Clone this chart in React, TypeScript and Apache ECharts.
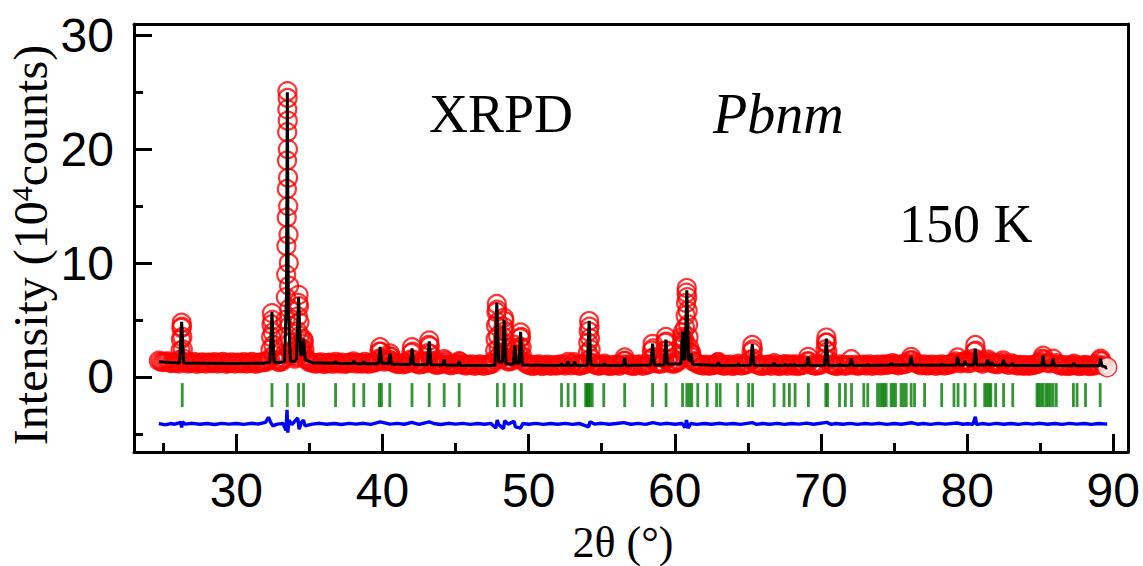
import React, { useEffect, useRef } from "react";
import * as echarts from "echarts";

// ---------- data ----------
const xMajorTicks = [30, 40, 50, 60, 70, 80, 90];
const xMinorTicks = [25, 35, 45, 55, 65, 75, 85];
const yMajorTicks = [0, 10, 20, 30];
const yMinorTicks = [-5, 5, 15, 25];

// observed points along the background
const obsBackground: number[][] = [
  [24.7,1.42],[24.9,1.30],[25.1,1.33],[25.3,1.36],[25.5,1.21],[25.7,1.24],[25.9,1.27],[26.1,1.18],
  [26.5,1.28],[26.7,1.18],[26.9,1.24],[27.1,1.30],[27.3,1.15],[27.5,1.22],[27.7,1.27],[27.9,1.17],[28.1,1.25],[28.3,1.20],
  [28.5,1.28],[28.7,1.18],[28.9,1.24],[29.1,1.30],[29.3,1.15],[29.5,1.22],[29.7,1.27],[29.9,1.17],[30.1,1.25],[30.3,1.20],
  [30.5,1.28],[30.7,1.18],[30.9,1.24],[31.1,1.30],[31.3,1.15],[31.5,1.22],[31.7,1.27],[31.9,1.30],[32.1,1.35],
  [32.7,1.45],[32.9,1.30],[33.1,1.35],[33.25,1.6],[33.85,1.9],[34.0,1.6],[34.8,1.5],[35.0,1.3],
  [35.2,1.25],[35.4,1.16],[35.6,1.22],[35.8,1.27],[36.0,1.13],[36.2,1.20],[36.4,1.25],[36.6,1.15],[36.8,1.30],[37.0,1.17],
  [37.2,1.24],[37.4,1.14],[37.6,1.20],[37.8,1.25],[38.0,1.35],[38.2,1.18],[38.4,1.22],[38.6,1.16],[38.8,1.30],[39.0,1.15],
  [39.2,1.20],[39.4,1.25],[39.6,1.35],[40.1,1.35],[40.3,1.4],[40.8,1.25],[41.0,1.12],[41.2,1.18],[41.4,1.10],[41.6,1.16],
  [41.8,1.25],[42.3,1.2],[42.5,1.08],[42.7,1.14],[42.9,1.2],[43.5,1.15],[43.7,1.05],[43.9,1.1],[44.1,1.2],[44.3,1.4],
  [44.5,1.08],[44.7,1.02],[44.9,1.10],[45.1,1.15],[45.3,1.3],[45.5,1.06],[45.7,0.99],[45.9,1.05],[46.1,1.10],[46.3,0.98],
  [46.5,1.04],[46.7,1.08],[46.9,0.97],[47.1,1.03],[47.3,1.08],[47.5,1.15],[48.07,1.6],[48.6,1.35],[48.8,1.4],[49.25,1.6],
  [49.7,1.3],[49.9,1.1],[50.1,1.02],[50.3,0.96],[50.5,1.04],[50.7,1.08],[50.9,0.95],[51.1,1.01],[51.3,1.06],[51.5,0.97],
  [51.7,1.03],[51.9,1.0],[52.1,1.06],[52.3,1.1],[52.5,1.0],[52.7,1.3],[52.9,1.02],[53.1,1.28],[53.3,1.04],[53.5,0.98],
  [53.7,1.05],[53.9,1.15],[54.4,1.2],[54.6,1.05],[54.8,0.98],[55.0,1.04],[55.2,1.15],[55.4,1.0],[55.6,0.96],[55.8,1.03],
  [56.0,1.07],[56.2,0.97],[56.4,1.1],[56.8,1.08],[57.0,1.0],[57.2,0.95],[57.4,1.04],[57.6,1.08],[57.8,0.98],[58.0,1.05],
  [58.2,1.1],[58.75,1.2],[58.95,1.15],[59.15,1.2],[59.65,1.25],[59.85,1.15],[60.05,1.2],[60.25,1.4],[61.35,1.3],[61.55,1.15],
  [61.75,1.05],[61.95,1.0],[62.15,1.06],[62.35,0.98],[62.55,1.03],[62.75,1.08],[62.95,1.25],[63.15,1.05],[63.35,0.97],[63.55,1.02],
  [63.75,1.07],[63.95,0.96],[64.15,1.01],[64.35,1.15],[64.55,1.0],[64.75,1.05],[64.95,1.12],[65.6,1.1],[65.8,1.0],[66.0,0.95],
  [66.2,1.03],[66.4,1.06],[66.6,0.98],[66.8,1.2],[67.0,1.0],[67.2,0.96],[67.4,1.05],[67.55,1.12],[67.7,0.98],[67.9,1.1],
  [68.1,1.0],[68.25,1.08],[68.4,0.96],[68.6,1.02],[68.8,1.06],[69.4,1.05],[69.6,0.98],[69.8,1.02],[70.0,1.08],[70.7,1.1],
  [70.9,1.0],[71.1,0.96],[71.3,1.1],[71.5,1.02],[71.7,0.98],[71.9,1.05],[72.3,1.04],[72.5,0.97],[72.7,1.01],[72.9,1.06],
  [73.1,1.0],[73.3,1.08],[73.5,0.98],[73.7,1.03],[73.9,1.07],[74.1,1.0],[74.3,1.1],[74.5,1.04],[74.7,1.12],[74.9,1.2],
  [75.1,1.08],[75.3,1.02],[75.5,1.08],[75.7,1.12],[75.9,1.2],[76.45,1.25],[76.65,1.1],[76.85,1.02],[77.05,1.08],[77.25,0.99],
  [77.45,1.04],[77.65,1.07],[77.85,0.98],[78.05,1.03],[78.25,1.1],[78.45,1.0],[78.65,1.05],[78.85,1.12],[79.05,1.2],[79.2,1.35],
  [79.55,1.2],[79.7,1.3],[79.85,1.4],[80.05,1.2],[80.25,1.25],[80.85,1.3],[81.05,1.15],[81.25,1.3],[81.45,1.5],[81.65,1.25],
  [81.85,1.15],[82.05,1.1],[82.25,1.2],[82.45,1.45],[82.65,1.15],[82.85,1.05],[83.05,1.18],[83.25,1.08],[83.45,1.0],[83.65,1.04],
  [83.85,0.98],[84.05,1.02],[84.25,0.97],[84.45,1.03],[84.65,1.08],[84.85,1.15],[85.0,1.3],[85.45,1.25],[85.65,1.2],[86.1,1.2],
  [86.3,1.05],[86.5,0.98],[86.7,1.02],[86.9,0.96],[87.1,1.0],[87.3,1.15],[87.5,1.0],[87.7,0.95],[87.9,1.0],[88.1,1.04],
  [88.3,0.95],[88.5,0.98],[88.7,1.0],[88.9,1.1],[89.35,1.0],
];
// last recorded point
const obsLast: number[][] = [[89.58, 0.85]];

// observed points on the Bragg peaks
const obsPeaks: number[][] = [
  [26.14,1.5],[26.18,2.3],[26.21,3.3],[26.24,4.3],[26.26,4.75],[26.28,4.4],[26.31,3.5],[26.34,2.4],[26.38,1.6],
  [32.30,1.6],[32.34,2.4],[32.38,3.5],[32.41,4.6],[32.44,5.6],[32.47,5.0],[32.50,3.9],[32.53,2.8],[32.57,1.9],
  [33.32,2.0],[33.35,3.5],[33.37,5.0],[33.39,7.0],[33.41,9.0],[33.43,11.5],[33.45,14.0],[33.46,16.5],[33.47,19.0],[33.48,21.5],
  [33.49,23.5],[33.50,25.1],[33.51,24.5],[33.52,22.5],[33.53,20.0],[33.54,17.5],[33.55,15.0],[33.57,12.5],[33.59,10.0],[33.61,8.0],
  [33.63,6.0],[33.66,4.5],[33.69,3.0],[33.73,2.2],
  [34.12,1.8],[34.15,2.8],[34.18,4.0],[34.21,5.3],[34.24,6.5],[34.26,7.2],[34.29,6.2],[34.32,4.8],[34.35,3.6],[34.39,2.6],[34.43,2.2],
  [34.50,2.3],[34.54,2.9],[34.58,3.3],[34.62,3.1],[34.66,2.4],[34.71,1.8],
  [39.74,1.6],[39.79,2.2],[39.84,2.6],[39.89,2.2],[39.94,1.6],
  [40.44,1.5],[40.48,1.8],[40.52,2.05],[40.57,1.75],[40.62,1.4],
  [41.93,1.5],[41.97,2.1],[42.02,2.6],[42.06,2.2],[42.11,1.5],
  [43.09,1.4],[43.13,2.1],[43.17,2.8],[43.20,3.2],[43.24,2.7],[43.28,2.0],[43.33,1.4],
  [44.22,1.55],[45.25,1.38],
  [47.68,1.5],[47.71,2.3],[47.74,3.3],[47.77,4.5],[47.80,5.7],[47.82,6.4],[47.85,5.9],[47.88,4.8],[47.91,3.6],[47.95,2.5],[47.99,1.8],
  [48.19,1.8],[48.22,2.6],[48.25,3.5],[48.28,4.4],[48.31,5.2],[48.34,4.9],[48.37,4.0],[48.41,2.9],[48.45,2.0],[48.50,1.5],
  [48.96,1.7],[49.00,2.3],[49.05,2.8],[49.09,2.4],[49.13,1.9],
  [49.35,1.9],[49.38,2.6],[49.42,3.4],[49.45,3.9],[49.48,3.5],[49.52,2.6],[49.57,1.8],
  [54.02,1.4],[54.05,2.1],[54.08,3.0],[54.11,4.0],[54.14,4.9],[54.17,4.4],[54.20,3.4],[54.24,2.4],[54.28,1.6],
  [56.53,1.4],[56.57,1.7],[56.61,1.4],
  [58.39,1.6],[58.43,2.3],[58.48,2.9],[58.52,2.5],[58.57,1.7],
  [59.29,1.6],[59.33,2.3],[59.36,3.0],[59.39,3.5],[59.42,3.1],[59.46,2.3],[59.51,1.6],
  [60.43,1.8],[60.47,2.8],[60.50,3.5],[60.53,3.9],[60.57,3.3],[60.62,2.8],[60.67,3.2],[60.71,4.3],[60.74,5.4],[60.77,6.5],
  [60.80,7.4],[60.82,7.8],[60.85,7.0],[60.88,5.8],[60.91,4.6],[60.94,3.5],[60.98,2.6],[61.04,2.0],[61.09,2.1],[61.12,2.1],
  [61.17,1.7],[61.22,1.4],
  [62.98,1.3],
  [65.21,1.5],[65.25,2.2],[65.30,2.8],[65.34,2.4],[65.39,1.6],
  [69.05,1.35],[69.12,1.75],[69.18,1.35],
  [70.27,1.6],[70.31,2.4],[70.34,3.0],[70.37,3.45],[70.40,3.0],[70.44,2.2],[70.49,1.5],
  [72.07,1.55],
  [76.10,1.45],[76.17,1.75],[76.24,1.45],
  [79.35,1.7],
  [80.47,1.6],[80.51,2.2],[80.56,2.8],[80.60,2.3],[80.65,1.5],
  [85.15,1.6],[85.20,1.85],[85.26,1.5],[85.88,1.6],
  [89.08,1.45],[89.13,1.6],[89.19,1.35],
];

// calculated profile
const calculated: number[][] = [
  [24.7,1.32],[25.5,1.26],[26.12,1.22],[26.26,4.83],[26.4,1.22],[28,1.2],[30,1.18],[31.8,1.2],[32.3,1.28],[32.44,5.7],
  [32.58,1.3],[33.0,1.25],[33.3,1.35],[33.43,7.2],[33.49,25.0],[33.56,6.0],[33.7,1.4],[34.0,1.35],[34.12,1.6],[34.26,7.0],
  [34.4,1.9],[34.5,2.0],[34.6,3.3],[34.72,1.5],[35.2,1.25],[36.7,1.2],[36.79,1.35],[36.88,1.2],[37.95,1.17],[38.04,1.4],
  [38.13,1.17],[38.63,1.15],[38.72,1.35],[38.81,1.15],[39.72,1.15],[39.84,2.63],[39.96,1.2],[40.1,1.2],[40.42,1.15],[40.52,2.05],
  [40.62,1.12],[41.9,1.08],[42.02,2.5],[42.14,1.08],[43.08,1.06],[43.2,3.13],[43.32,1.06],[44.13,1.04],[44.22,1.55],[44.31,1.03],
  [45.16,1.02],[45.25,1.38],[45.34,1.0],[47.7,1.0],[47.82,6.5],[47.95,1.3],[48.2,1.3],[48.32,5.04],[48.45,1.15],[48.95,1.1],
  [49.05,2.78],[49.15,1.2],[49.34,1.2],[49.45,3.95],[49.57,1.05],[52.16,1.0],[52.25,1.15],[52.34,1.0],[52.59,1.0],[52.68,1.38],
  [52.77,1.0],[53.05,1.0],[53.14,1.35],[53.23,1.0],[54.02,1.0],[54.14,4.92],[54.26,1.05],[55.11,1.0],[55.2,1.17],[55.29,1.0],
  [56.48,1.0],[56.57,1.7],[56.66,1.0],[58.36,1.05],[58.48,2.93],[58.6,1.05],[59.27,1.05],[59.39,3.28],[59.51,1.1],[60.42,1.15],
  [60.53,3.95],[60.63,1.5],[60.7,1.6],[60.82,7.61],[60.95,1.5],[61.05,1.4],[61.12,2.05],[61.22,1.1],[62.89,1.0],[62.98,1.28],
  [63.07,1.0],[64.26,1.0],[64.35,1.15],[64.44,1.0],[65.18,1.02],[65.3,2.87],[65.42,1.02],[66.71,1.0],[66.8,1.23],[66.89,1.0],
  [67.45,1.0],[67.53,1.12],[67.61,1.0],[67.82,1.0],[67.9,1.1],[67.98,1.0],[68.12,1.0],[68.2,1.1],[68.28,1.0],[69.02,1.0],
  [69.12,1.76],[69.22,1.0],[70.25,1.0],[70.37,3.37],[70.49,1.0],[71.2,1.0],[71.28,1.12],[71.36,1.0],[71.97,1.0],[72.07,1.6],
  [72.17,1.0],[73.12,1.0],[73.2,1.12],[73.28,1.0],[74.72,1.05],[74.8,1.22],[74.88,1.05],[76.07,1.05],[76.17,1.76],[76.27,1.05],
  [78.2,1.03],[78.28,1.12],[78.36,1.03],[79.26,1.05],[79.35,1.76],[79.44,1.05],[79.77,1.05],[79.85,1.4],[79.93,1.05],[80.46,1.05],
  [80.56,2.49],[80.66,1.05],[81.32,1.05],[81.4,1.53],[81.48,1.05],[81.62,1.05],[81.7,1.3],[81.78,1.05],[82.41,1.03],[82.49,1.5],
  [82.57,1.03],[83.02,1.02],[83.1,1.2],[83.18,1.0],[85.11,1.0],[85.2,1.85],[85.29,1.0],[85.79,1.0],[85.88,1.6],[85.97,1.0],
  [87.22,0.98],[87.3,1.2],[87.38,0.98],[89.04,0.97],[89.13,1.6],[89.22,0.95],[89.45,0.9],[89.5,0.78],[89.58,0.82],
];

// observed - calculated
const difference: number[][] = [
  [24.7,-4.1],[25.0,-4.18],[25.2,-4.2],[25.5,-4.1],[25.8,-4.16],[26.2,-4.0],[26.26,-4.45],[26.32,-3.95],[26.5,-4.15],[27.0,-4.08],
  [27.5,-4.16],[28.0,-4.1],[28.5,-4.18],[29.0,-4.09],[29.5,-4.15],[30.0,-4.1],[30.5,-4.17],[31.0,-4.08],[31.5,-4.14],[32.0,-4.0],
  [32.2,-3.55],[32.35,-4.0],[32.5,-4.3],[32.8,-4.15],[33.2,-4.1],[33.4,-4.7],[33.47,-2.9],[33.52,-4.9],[33.6,-3.8],[33.8,-4.2],
  [34.2,-3.6],[34.3,-4.6],[34.45,-4.0],[34.6,-3.8],[34.7,-4.3],[35.2,-4.15],[35.7,-4.08],[36.2,-4.16],[36.7,-4.1],[37.2,-4.18],
  [37.7,-4.09],[38.2,-4.15],[38.7,-4.08],[39.2,-4.17],[39.85,-3.95],[40.5,-4.15],[41.0,-4.09],[41.5,-4.16],[42.0,-4.0],[42.5,-4.18],
  [43.2,-3.95],[43.6,-4.12],[44.0,-4.18],[44.5,-4.08],[45.0,-4.15],[45.5,-4.09],[46.0,-4.17],[46.5,-4.1],[47.0,-4.16],[47.4,-4.08],
  [47.75,-4.5],[47.85,-3.8],[47.95,-4.2],[48.28,-4.55],[48.36,-3.85],[48.6,-4.15],[49.0,-3.9],[49.1,-4.4],[49.45,-4.5],[49.6,-4.1],
  [50.0,-4.16],[50.5,-4.09],[51.0,-4.17],[51.5,-4.1],[52.0,-4.16],[52.5,-4.08],[53.0,-4.17],[53.5,-4.1],[54.1,-4.4],[54.2,-3.95],
  [54.5,-4.15],[55.0,-4.08],[55.5,-4.16],[56.0,-4.1],[56.5,-4.02],[57.0,-4.16],[57.5,-4.09],[58.0,-4.17],[58.5,-4.02],[59.0,-4.15],
  [59.5,-4.08],[60.0,-4.16],[60.5,-4.1],[60.7,-4.45],[60.8,-3.8],[60.9,-4.5],[61.1,-4.1],[61.5,-4.17],[62,-4.1],[62.5,-4.16],
  [63,-4.08],[63.5,-4.15],[64,-4.1],[64.5,-4.17],[65.3,-4.02],[65.6,-4.17],[66,-4.1],[66.5,-4.16],[67,-4.08],[67.5,-4.17],
  [68,-4.1],[68.5,-4.15],[69,-4.06],[69.5,-4.16],[70.4,-4.0],[70.7,-4.17],[71,-4.1],[71.5,-4.16],[72,-4.08],[72.5,-4.17],
  [73,-4.1],[73.5,-4.15],[74,-4.08],[74.5,-4.17],[75,-4.1],[75.5,-4.16],[76.2,-4.03],[76.6,-4.16],[77,-4.1],[77.5,-4.17],
  [78,-4.09],[78.5,-4.15],[79.3,-4.05],[79.7,-4.16],[80.0,-4.12],[80.4,-4.16],[80.56,-3.5],[80.65,-4.2],[81.0,-4.1],[81.5,-4.17],
  [82.0,-4.08],[82.5,-4.16],[83.0,-4.1],[83.5,-4.17],[84.0,-4.09],[84.5,-4.15],[85.0,-4.08],[85.5,-4.16],[86.0,-4.1],[86.5,-4.17],
  [87.0,-4.09],[87.5,-4.15],[88.0,-4.1],[88.5,-4.17],[89.0,-4.1],[89.58,-4.15],
];

// Bragg reflection positions (Pbnm)
const braggPositions = [
  26.3, 32.44, 33.49, 34.26, 34.6, 36.79, 38.04, 38.72, 39.79, 39.93, 40.5, 42.02, 43.2, 44.22, 45.25,
  47.86, 48.32, 49.05, 49.5, 52.25, 52.7, 53.16, 53.9, 54.0, 54.1, 54.2, 54.35, 55.14, 56.57, 58.48,
  59.4, 60.53, 60.82, 61.0, 61.16, 61.57, 62.22, 62.86, 63.1, 64.3, 65.05, 65.32, 66.8, 67.47, 67.84,
  68.23, 69.14, 70.33, 70.45, 71.27, 71.67, 72.09, 72.93, 73.2, 73.87, 74.05, 74.2, 74.32, 74.46, 74.8,
  74.95, 75.1, 75.48, 75.65, 75.83, 76.17, 76.4, 77.09, 78.26, 79.1, 79.38, 79.86, 80.55, 81.2, 81.35,
  81.5, 81.62, 81.95, 82.49, 83.12, 84.78, 84.9, 85.05, 85.2, 85.4, 85.55, 85.7, 85.88, 86.1, 87.27,
  87.52, 88.1, 89.1,
];
const braggRowY = -1.6;

const X_MIN = 23;
const X_MAX = 91;
const Y_MIN = -6.6;
const Y_MAX = 31;

export default function App() {
  const ref = useRef<HTMLDivElement>(null);

  useEffect(() => {
    if (!ref.current) return;
    const chart = echarts.init(ref.current, undefined, { renderer: "svg" });
    const sans = "Liberation Sans";
    const serif = "Liberation Serif";
    const axisLineStyle = { color: "#000", width: 3 };

    const baseX = {
      type: "value" as const,
      min: X_MIN,
      max: X_MAX,
      splitLine: { show: false },
    };
    const baseY = {
      type: "value" as const,
      min: Y_MIN,
      max: Y_MAX,
      splitLine: { show: false },
    };

    const serifText = (size: number, italic = false) => ({
      fontFamily: serif,
      fontSize: size,
      fontStyle: italic ? "italic" : "normal",
      fill: "#000",
    });

    chart.setOption({
      animation: false,
      backgroundColor: "#fff",
      grid: { left: 134, right: 13, top: 24, bottom: 114, containLabel: false },
      xAxis: [
        {
          ...baseX,
          position: "bottom",
          axisLine: { show: true, onZero: false, lineStyle: axisLineStyle },
          axisTick: { show: true, inside: true, length: 18, customValues: xMajorTicks, lineStyle: axisLineStyle },
          axisLabel: { show: true, customValues: xMajorTicks, fontSize: 48, color: "#000", fontFamily: sans, margin: 14 },
        },
        {
          ...baseX,
          position: "bottom",
          axisLine: { show: false, onZero: false },
          axisTick: { show: true, inside: true, length: 9, customValues: xMinorTicks, lineStyle: axisLineStyle },
          axisLabel: { show: false },
        },
        {
          ...baseX,
          position: "top",
          axisLine: { show: true, onZero: false, lineStyle: axisLineStyle },
          axisTick: { show: false },
          axisLabel: { show: false },
        },
      ],
      yAxis: [
        {
          ...baseY,
          position: "left",
          axisLine: { show: true, onZero: false, lineStyle: axisLineStyle },
          axisTick: { show: true, inside: true, length: 18, customValues: yMajorTicks, lineStyle: axisLineStyle },
          axisLabel: { show: true, customValues: yMajorTicks, fontSize: 48, color: "#000", fontFamily: sans, margin: 20 },
        },
        {
          ...baseY,
          position: "left",
          axisLine: { show: false, onZero: false },
          axisTick: { show: true, inside: true, length: 9, customValues: yMinorTicks, lineStyle: axisLineStyle },
          axisLabel: { show: false },
        },
        {
          ...baseY,
          position: "right",
          axisLine: { show: true, onZero: false, lineStyle: axisLineStyle },
          axisTick: { show: false },
          axisLabel: { show: false },
        },
      ],
      series: [
        {
          name: "observed",
          type: "scatter",
          xAxisIndex: 0,
          yAxisIndex: 0,
          data: obsBackground,
          symbol: "circle",
          symbolSize: 17,
          itemStyle: { color: "rgba(255,255,255,0)", borderColor: "#ff0000", borderWidth: 3.2 },
          silent: true,
          z: 2,
        },
        {
          name: "observed peaks",
          type: "scatter",
          xAxisIndex: 0,
          yAxisIndex: 0,
          data: obsPeaks,
          symbol: "circle",
          symbolSize: 18,
          itemStyle: { color: "rgba(255,255,255,0)", borderColor: "#ff0000", borderWidth: 2.2 },
          silent: true,
          z: 2,
        },
        {
          name: "observed last",
          type: "scatter",
          xAxisIndex: 0,
          yAxisIndex: 0,
          data: obsLast,
          symbol: "circle",
          symbolSize: 19,
          itemStyle: { color: "#fff", borderColor: "#ff0000", borderWidth: 1.6 },
          silent: true,
          z: 2,
        },
        {
          name: "calculated",
          type: "line",
          xAxisIndex: 0,
          yAxisIndex: 0,
          data: calculated,
          showSymbol: false,
          symbol: "none",
          lineStyle: { color: "#000", width: 3 },
          silent: true,
          z: 3,
        },
        {
          name: "bragg",
          type: "scatter",
          xAxisIndex: 0,
          yAxisIndex: 0,
          data: braggPositions.map((p) => [p, braggRowY]),
          symbol: "rect",
          symbolSize: [2.8, 24],
          itemStyle: { color: "#007a00" },
          silent: true,
          z: 3,
        },
        {
          name: "difference",
          type: "line",
          xAxisIndex: 0,
          yAxisIndex: 0,
          data: difference,
          showSymbol: false,
          symbol: "none",
          lineStyle: { color: "#0000ff", width: 3.4 },
          silent: true,
          z: 3,
        },
      ],
      graphic: [
        {
          type: "text",
          x: 30,
          y: 245,
          rotation: Math.PI / 2,
          style: {
            text: "Intensity (10{sup|4}counts)",
            ...serifText(48),
            align: "center",
            verticalAlign: "middle",
            rich: {
              sup: { fontSize: 30, fontFamily: serif, fill: "#000", verticalAlign: "top", padding: [0, 0, 14, 0] },
            },
          },
        },
        {
          type: "text",
          x: 623,
          y: 542,
          style: { text: "2θ (°)", ...serifText(44), align: "center", verticalAlign: "middle" },
        },
        {
          type: "text",
          x: 429,
          y: 114,
          style: { text: "XRPD", ...serifText(54), align: "left", verticalAlign: "middle" },
        },
        {
          type: "text",
          x: 713,
          y: 114,
          style: { text: "Pbnm", ...serifText(56, true), align: "left", verticalAlign: "middle" },
        },
        {
          type: "text",
          x: 899,
          y: 224,
          style: { text: "150 K", ...serifText(54), align: "left", verticalAlign: "middle" },
        },
      ],
    });

    return () => chart.dispose();
  }, []);

  return (
    <div
      ref={ref}
      style={{ position: "fixed", left: 0, top: 0, width: 1143, height: 566, background: "#fff" }}
    />
  );
}
